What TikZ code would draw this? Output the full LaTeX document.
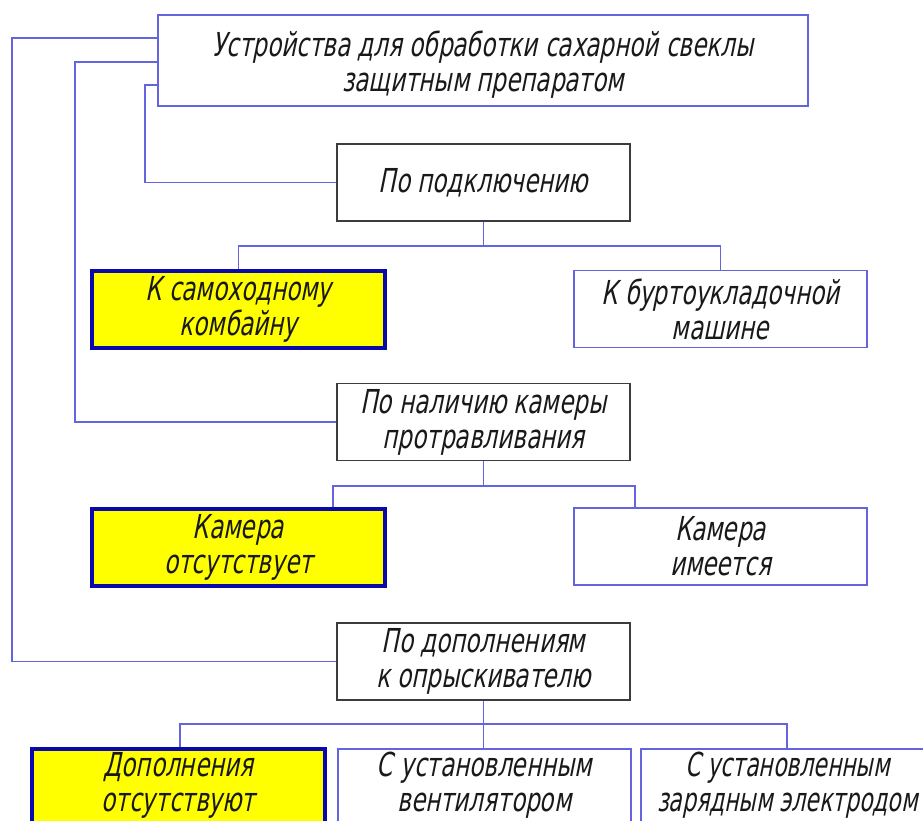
\documentclass[tikz,border=0pt]{standalone}
\usepackage{fontspec}
\newfontfamily\gost{DejaVu Sans}[FakeSlant=0.2,FakeStretch=0.70]
\newfontfamily\gostn{DejaVu Sans}[FakeSlant=0.2,FakeStretch=0.665]
\definecolor{lnblue}{RGB}{100,100,225}
\definecolor{darkbd}{RGB}{60,60,60}
\definecolor{thickbd}{RGB}{10,10,170}
\definecolor{txt}{RGB}{25,25,25}
\definecolor{yel}{RGB}{255,255,0}
\begin{document}
\begin{tikzpicture}[x=1pt,y=-1pt,
  every node/.style={font=\gost\fontsize{33}{35}\selectfont, text=txt, align=center, inner sep=0pt},
  boxbase/.style={minimum width=293pt, minimum height=77pt},
  bluebox/.style={boxbase, draw=lnblue, line width=1.5pt, fill=white},
  darkbox/.style={boxbase, draw=darkbd, line width=1.6pt, fill=white},
  yellowbox/.style={boxbase, draw=thickbd, line width=4pt, fill=yel},
  uptext/.style={label={[yshift=4pt, align=center]center:#1}},
  conn/.style={draw=lnblue, line width=1.5pt}]
\useasboundingbox (0,0) rectangle (923,821);
\clip (0,0) rectangle (923,821);
\fill[white] (0,0) rectangle (923,821);

\node[bluebox, minimum width=650pt, minimum height=91pt,
  label={[yshift=-4pt, align=center]center:Устройства для обработки сахарной свеклы\\защитным препаратом}] (top) at (483,60.5) {};
\node[darkbox] (conn1) at (483.5,182.5) {По подключению};
\node[yellowbox] (k1) at (238.5,309) {К самоходному\\комбайну};
\node[bluebox] (k2) at (720.5,309) {К буртоукладочной\\машине};
\node[darkbox] (cam) at (483.5,422) {По наличию камеры\\протравливания};
\node[yellowbox] (c1) at (238.5,547.5) {Камера\\отсутствует};
\node[bluebox] (c2) at (720.5,546.5) {Камера\\имеется};
\node[darkbox] (dop) at (483.5,661.5) {По дополнениям\\к опрыскивателю};
\node[yellowbox, minimum height=80pt, uptext={Дополнения\\отсутствуют}] (d1) at (178.5,789) {};
\node[bluebox, minimum height=80pt, uptext={С установленным\\вентилятором}] (d2) at (484.5,789) {};
\node[bluebox, minimum height=80pt,
  label={[yshift=4pt, align=center, font=\gostn\fontsize{33}{35}\selectfont]center:С установленным\\зарядным электродом}] (d3) at (787.5,789) {};

% left feeders
\draw[conn] (top.west |- 0,38) -- (12,38) |- (dop.west);
\draw[conn] (top.west |- 0,62) -- (75,62) |- (cam.west);
\draw[conn] (top.west |- 0,85) -- (145,85) |- (conn1.west);

% tree 1
\draw[conn] (conn1.south) -- (conn1.south |- 0,246) coordinate (b1);
\draw[conn] (k1.north) |- (b1) -| (k2.north);

% tree 2
\draw[conn] (cam.south) -- (cam.south |- 0,486);
\draw[conn] (c1.north -| 333,0) |- (635,486) -- (c2.north -| 635,0);

% tree 3
\draw[conn] (dop.south) -- (d2.north -| dop.south);
\draw[conn] (d1.north -| 180,0) |- (787,724) -- (d3.north -| 787,0);
\end{tikzpicture}
\end{document}
